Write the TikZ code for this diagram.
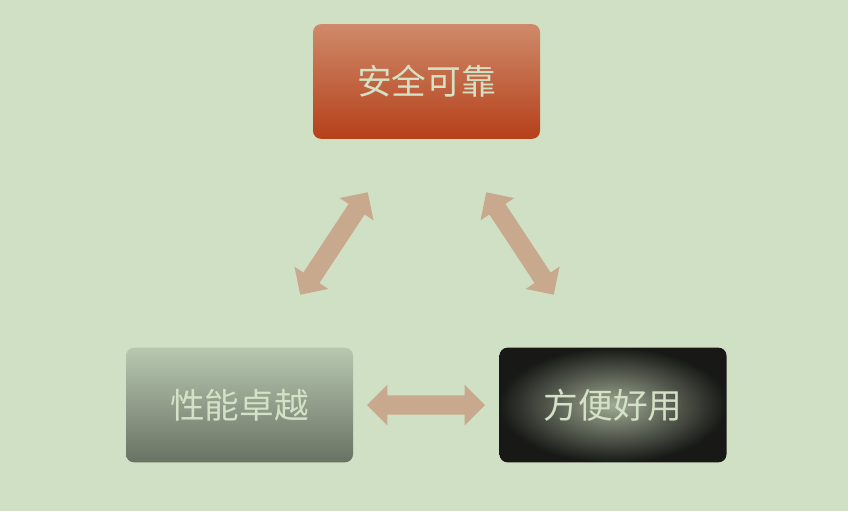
\documentclass[tikz,border=0pt]{standalone}
\usepackage{fontspec}
\newfontfamily\cjk{Noto Sans CJK SC}
\usetikzlibrary{shapes.arrows}
\definecolor{bg}{HTML}{D0E0C4}
\definecolor{txt}{HTML}{D3E2C6}
\definecolor{arr}{HTML}{C9A98E}
\definecolor{rtop}{RGB}{207,138,106}
\definecolor{rbot}{RGB}{181,64,26}
\definecolor{gtop}{RGB}{184,200,176}
\definecolor{gbot}{RGB}{104,114,99}
\definecolor{dmid}{RGB}{160,170,148}
\tikzset{
 box/.style={rounded corners=6pt,minimum width=170.25pt,minimum height=86pt,inner sep=0pt,font=\cjk\fontsize{26}{30}\selectfont,text=txt},
 darr/.style={double arrow,fill=arr,draw=none,double arrow head extend=8pt,inner xsep=0pt,inner ysep=7pt,font=\tiny}
}
\begin{document}
\begin{tikzpicture}[x=0.75pt,y=-0.75pt]
\fill[bg] (0,0) rectangle (848,511);
\useasboundingbox (0,0) rectangle (848,511);
\node[box,top color=rtop,bottom color=rbot] (a) at (426.5,81.5) {安全可靠};
\node[box,top color=gtop,bottom color=gbot] (b) at (239.5,405) {性能卓越};
\node[box,inner color=dmid,outer color=black!85!dmid] (c) at (613,405) {方便好用};
\node[darr,minimum height=88.5pt] (h) at (426,405) {};
\node[darr,minimum height=92pt,rotate=56.6] (l) at (334,243.5) {};
\node[darr,minimum height=92pt,rotate=-56.6] (r) at (520,243.5) {};
\end{tikzpicture}
\end{document}
